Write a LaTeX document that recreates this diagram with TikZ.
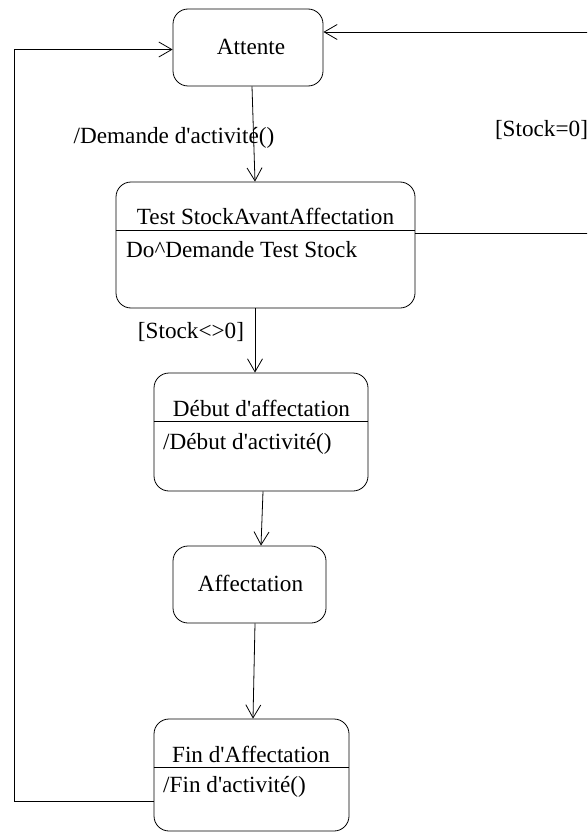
\documentclass[tikz,border=0pt]{standalone}
\usepackage{fontspec}
\setmainfont{Liberation Serif}
\usetikzlibrary{arrows.meta}
\begin{document}
\begin{tikzpicture}[x=1pt,y=-1pt,
  state/.style={draw=black,line width=0.8pt,rounded corners=15pt,inner sep=0pt},
  txt/.style={inner sep=0pt,font=\fontsize{23.2}{27}\selectfont},
  arr/.style={line width=0.8pt,-{Straight Barb[length=13pt,width=15pt,line width=0.8pt]}},
  plain/.style={line width=0.8pt}]
\useasboundingbox (0,0) rectangle (587,832);
\clip (0,0) rectangle (587,832);
% states
\node[state,minimum width=150pt,minimum height=77pt] (att) at (248,47.5) {};
\node[state,minimum width=299pt,minimum height=126pt] (test) at (265.5,245) {};
\node[state,minimum width=214pt,minimum height=118pt] (deb) at (261,432) {};
\node[state,minimum width=153pt,minimum height=77pt] (aff) at (249.5,584.5) {};
\node[state,minimum width=195pt,minimum height=112pt] (fin) at (251.5,775) {};
% separators
\coordinate (s1) at (0,230);
\coordinate (s2) at (0,421);
\coordinate (s3) at (0,767);
\draw[plain] (test.west |- s1) -- (test.east |- s1);
\draw[plain] (deb.west |- s2) -- (deb.east |- s2);
\draw[plain] (fin.west |- s3) -- (fin.east |- s3);
% texts
\node[txt] (attt) at (251,47) {Attente};
\node[txt] (testt) at (265.5,216) {Test StockAvantAffectation};
\node[txt,anchor=west] (testd) at (126,250) {Do\textasciicircum Demande Test Stock};
\node[txt] (debt) at (261.5,408) {Début d\textquotesingle affectation};
\node[txt,anchor=west] (debd) at (163,444) {/Début d\textquotesingle activité()};
\node[txt] (afft) at (250.5,583) {Affectation};
\node[txt] (fint) at (251,754) {Fin d\textquotesingle Affectation};
\node[txt,anchor=west] (find) at (163,787) {/Fin d\textquotesingle activité()};
% labels
\node[txt] (l1) at (174,138) {/Demande d\textquotesingle activité()};
\node[txt] (l2) at (541.5,130) {[Stock=0]};
\node[txt] (l3) at (191,332) {[Stock<>0]};
% connectors
\draw[arr] ([xshift=4pt]att.south) -- ([xshift=-10.5pt]test.north);
\draw[arr] ([xshift=-10.5pt]test.south) -- ([xshift=-6pt]deb.north);
\draw[arr] ([xshift=2pt]deb.south) -- ([xshift=11.5pt]aff.north);
\draw[arr] ([xshift=5.5pt]aff.south) -- ([xshift=1.5pt]fin.north);
\draw[arr] ([yshift=-26pt]fin.west) -- ++(-139,0) |- ([yshift=-2pt]att.west);
\draw[arr] ([yshift=12pt]test.east) -- ++(180,0) |- ([yshift=15.5pt]att.east);
\end{tikzpicture}
\end{document}
